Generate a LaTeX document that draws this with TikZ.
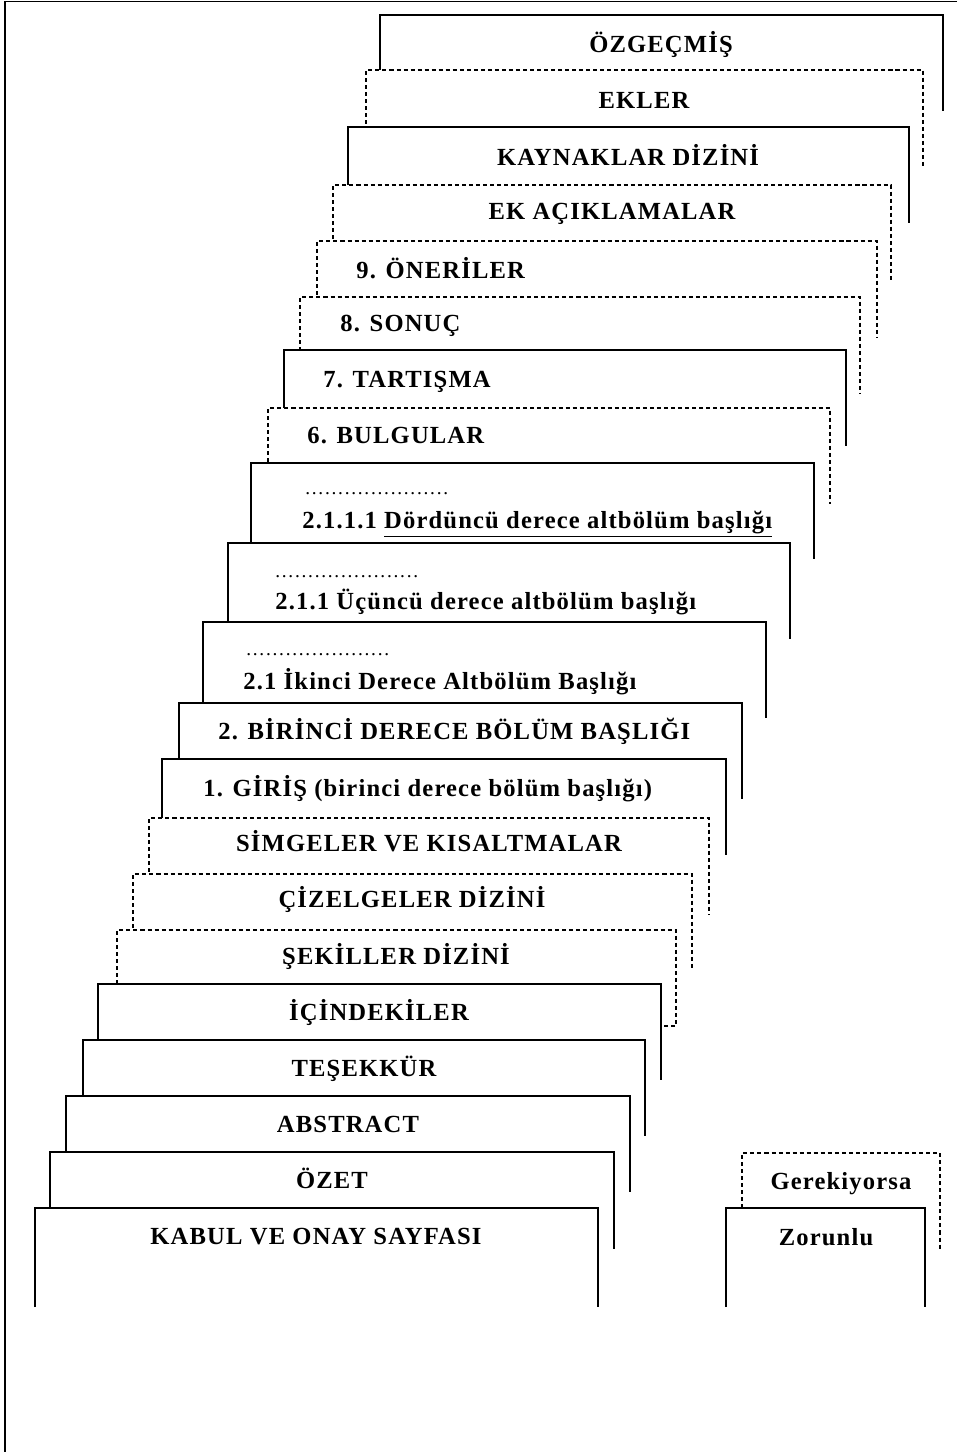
\documentclass[tikz,border=0pt]{standalone}
\usepackage{fontspec}
\setmainfont{Liberation Serif}[LetterSpace=4.7]

\begin{document}
\begin{tikzpicture}[x=0.02cm, y=-0.02cm,
  frame/.style={line width=1.1pt},
  sheet/.style={draw, line width=1.1pt, fill=white},
  optional/.style={sheet, dash pattern=on 2.3pt off 1.7pt},
  title/.style={font=\fontsize{14}{16}\selectfont\bfseries, inner sep=0pt, anchor=base},
  lefttitle/.style={title, anchor=base west},
  dotline/.style={font=\fontsize{11}{12}\selectfont\addfontfeature{LetterSpace=9}, inner sep=0pt, anchor=base west}]
\useasboundingbox (0,0) rectangle (957,1452);
\draw[frame] (957,1.5) -- (5,1.5) -- (5,1452);

\draw[sheet] (380,111) |- (943,15) -- (943,111);
\node[title] (ozgecmis) at (661,53) {ÖZGEÇMİŞ};
\draw[optional] (366,166) |- (923,70) -- (923,166);
\node[title] (ekler) at (644,109) {EKLER};
\draw[sheet] (348,223) |- (909,127) -- (909,223);
\node[title] (kaynaklar) at (628,166) {KAYNAKLAR DİZİNİ};
\draw[optional] (333,281) |- (891,185) -- (891,281);
\node[title] (ekaciklama) at (612,220) {EK AÇIKLAMALAR};
\draw[optional] (317,337) |- (877,241) -- (877,337);
\node[lefttitle] (oneriler) at (356,279) {9. ÖNERİLER};
\draw[optional] (300,393) |- (860,297) -- (860,393);
\node[lefttitle] (sonuc) at (340,332) {8. SONUÇ};
\draw[sheet] (284,446) |- (846,350) -- (846,446);
\node[lefttitle] (tartisma) at (323,388) {7. TARTIŞMA};
\draw[optional] (268,504) |- (830,408) -- (830,504);
\node[lefttitle] (bulgular) at (307,444) {6. BULGULAR};
\draw[sheet] (251,559) |- (814,463) -- (814,559);
\node[dotline] (dots4) at (305,495) {......................};
\node[lefttitle] (dorduncu) at (302,528) {2.1.1.1 \underline{Dördüncü derece altbölüm başlığı}};
\draw[sheet] (228,639) |- (790,543) -- (790,639);
\node[dotline] (dots3) at (275,577) {......................};
\node[lefttitle] (ucuncu) at (275,609) {2.1.1 Üçüncü derece altbölüm başlığı};
\draw[sheet] (203,718) |- (766,622) -- (766,718);
\node[dotline] (dots2) at (246,655) {......................};
\node[lefttitle] (ikinci) at (243,689) {2.1 İkinci Derece Altbölüm Başlığı};
\draw[sheet] (179,799) |- (742,703) -- (742,799);
\node[lefttitle] (birinci) at (218,739) {2. BİRİNCİ DERECE BÖLÜM BAŞLIĞI};
\draw[sheet] (162,855) |- (726,759) -- (726,855);
\node[lefttitle] (giris) at (203,796) {1. GİRİŞ (birinci derece bölüm başlığı)};
\draw[optional] (149,914) |- (709,818) -- (709,914);
\node[title] (simgeler) at (429,851) {SİMGELER VE KISALTMALAR};
\draw[optional] (133,970) |- (692,874) -- (692,970);
\node[title] (cizelgeler) at (412,907) {ÇİZELGELER DİZİNİ};
\draw[optional] (117,1026) |- (676,930) -- (676,1026) -- (664,1026);
\node[title] (sekiller) at (396,964) {ŞEKİLLER DİZİNİ};
\draw[sheet] (98,1080) |- (661,984) -- (661,1080);
\node[title] (icindekiler) at (379,1020) {İÇİNDEKİLER};
\draw[sheet] (83,1136) |- (645,1040) -- (645,1136);
\node[title] (tesekkur) at (364,1076) {TEŞEKKÜR};
\draw[sheet] (66,1192) |- (630,1096) -- (630,1192);
\node[title] (abstract) at (348,1132) {ABSTRACT};
\draw[sheet] (50,1249) |- (614,1152) -- (614,1249);
\node[title] (ozet) at (332,1188) {ÖZET};
\draw[sheet] (35,1307) |- (598,1208) -- (598,1307);
\node[title] (kabul) at (316,1244) {KABUL VE ONAY SAYFASI};

\draw[optional] (742,1250) |- (940,1153) -- (940,1250);
\node[title] (gerekiyorsa) at (841,1189) {Gerekiyorsa};
\draw[sheet] (726,1307) |- (925,1208) -- (925,1307);
\node[title] (zorunlu) at (826,1245) {Zorunlu};
\end{tikzpicture}
\end{document}
